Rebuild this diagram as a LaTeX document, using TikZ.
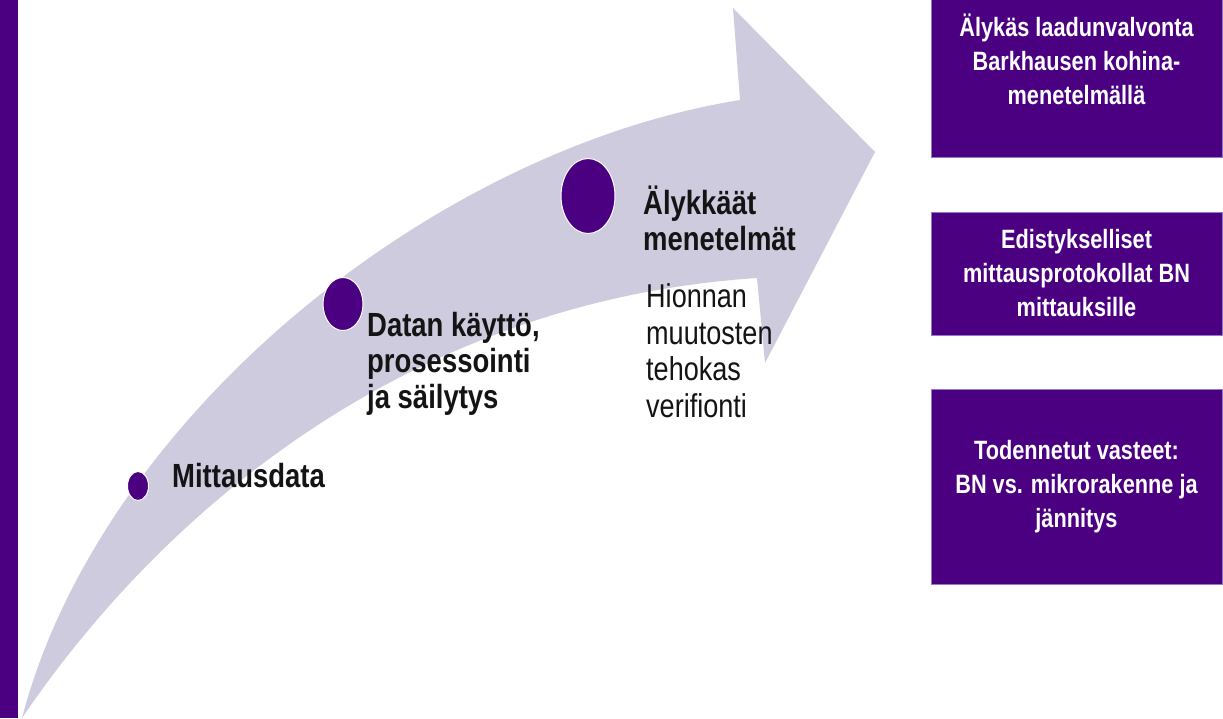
\documentclass[tikz,border=0pt]{standalone}
\usepackage{fontspec}
\setmainfont{Liberation Sans}[FakeStretch=0.82]
\usetikzlibrary{shapes.geometric}
\definecolor{ind}{RGB}{75,0,130}
\definecolor{boxedge}{RGB}{150,120,200}
\definecolor{arrowc}{RGB}{207,203,222}
\definecolor{txt}{RGB}{20,20,20}
\begin{document}
\begin{tikzpicture}[x=1pt,y=-1pt,
  dot/.style={ellipse, fill=ind, draw=white, line width=1pt, inner sep=0pt},
  lbl/.style={anchor=base west, inner sep=0pt, text=txt, align=left,
    font=\bfseries\fontsize{33.5pt}{36pt}\selectfont},
  reg/.style={anchor=base west, inner sep=0pt, text=txt, align=left,
    font=\fontsize{33pt}{36.5pt}\selectfont},
  box/.style={rectangle, fill=ind, draw=boxedge, line width=0.6pt, text=white,
    align=center, inner sep=0pt, minimum width=291pt,
    font=\bfseries\fontsize{26.5pt}{34pt}\selectfont}]
\useasboundingbox (0,0) rectangle (1223,718);
\clip (0,0) rectangle (1223,718);
\fill[white] (0,0) rectangle (1223,718);
\fill[ind] (0,0) rectangle (18,718);
% curved arrow
\fill[arrowc] (22,718) .. controls (100,420) and (430,150) .. (740,100)
  -- (733,8) -- (875,152) -- (765,363) -- (757,278)
  .. controls (420,300) and (170,500) .. (22,718) -- cycle;
% dots
\node[dot, minimum width=21pt, minimum height=29pt] (c1) at (138,486) {};
\node[dot, minimum width=40pt, minimum height=53pt] (c2) at (343,304) {};
\node[dot, minimum width=54pt, minimum height=75pt] (c3) at (588,196) {};
% labels (base anchor = baseline of last line)
\node[lbl] (t1) at (172,487) {Mittausdata};
\node[lbl] (t2) at (367,408) {Datan käyttö,\\prosessointi\\ja säilytys};
\node[lbl] (t3) at (643,250) {Älykkäät\\menetelmät};
\node[reg] (t4) at (646,417) {Hionnan\\muutosten\\tehokas\\verifionti};
% boxes
\node[box, minimum height=196pt] (b1) at (1076.5,59) {Älykäs laadunvalvonta\\Barkhausen kohina-\\menetelmällä};
\node[box, minimum height=123pt] (b2) at (1076.5,273.5) {Edistykselliset\\mittausprotokollat BN\\mittauksille};
\node[box, minimum height=195pt] (b3) at (1076.5,486.5) {Todennetut vasteet:\\BN vs. mikrorakenne ja\\jännitys};
\end{tikzpicture}
\end{document}
